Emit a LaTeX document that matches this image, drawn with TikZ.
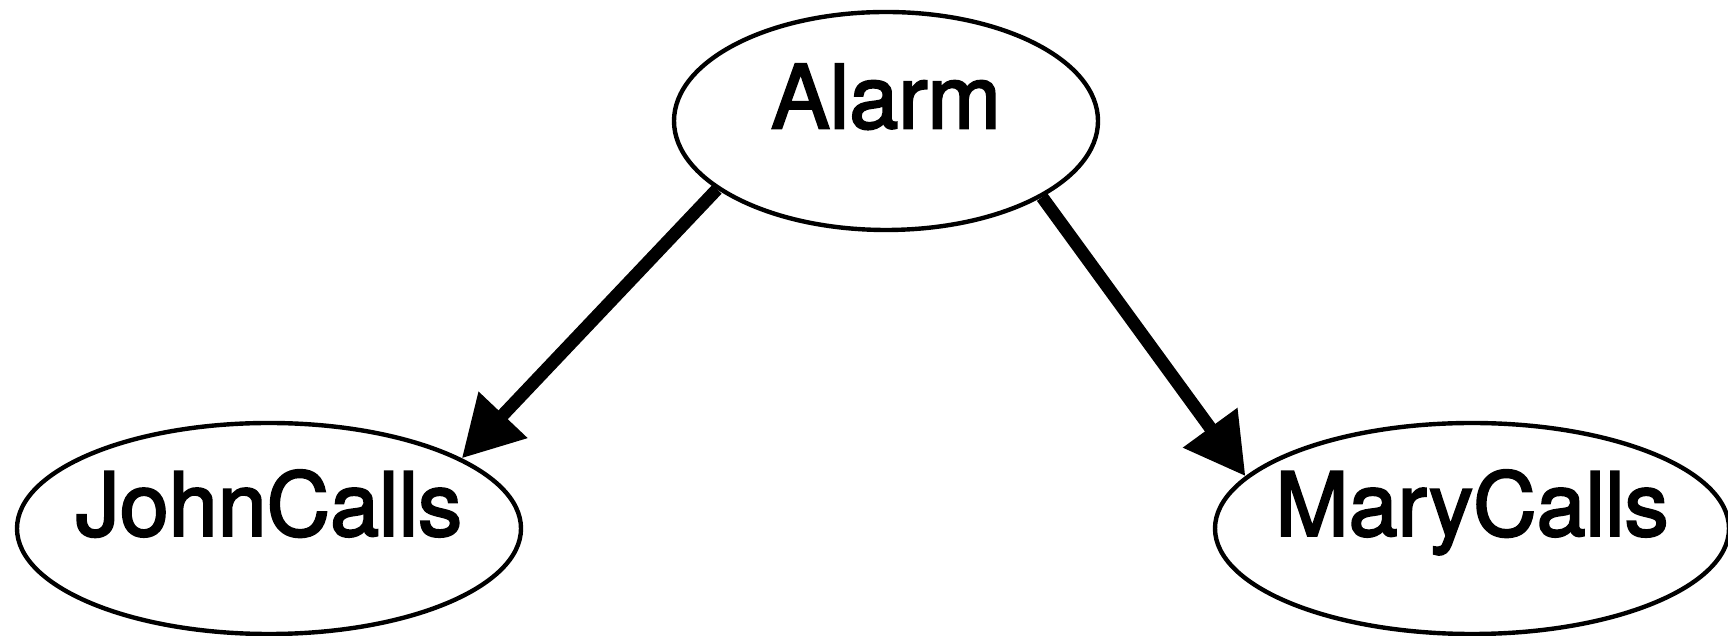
\documentclass[tikz,border=0pt]{standalone}
\usepackage{fontspec}
\setmainfont{TeX Gyre Heros}[FakeBold=2.5]
\usetikzlibrary{arrows.meta, shapes.geometric}
\newcommand{\bnname}[1]{\makebox[0pt]{#1}}

\begin{document}
\begin{tikzpicture}[x=1pt, y=1pt, >={Triangle[length=30pt, width=32pt]},
    bnvar/.style={ellipse, draw, line width=2.2pt, inner sep=0pt,
        font=\fontsize{44pt}{52pt}\selectfont, text height=0.716em, text depth=0pt},
    causal/.style={->, line width=6.4pt}]
    \useasboundingbox (0,0) rectangle (864,318);
    \node[bnvar, minimum width=212pt, minimum height=109pt] (alarm) at (443,257.5) {\bnname{Alarm}};
    \node[bnvar, minimum width=252pt, minimum height=105.5pt] (john) at (134.5,53.75) {\bnname{JohnCalls}};
    \node[bnvar, minimum width=257pt, minimum height=105.5pt] (mary) at (736,53.75) {\bnname{MaryCalls}};
    \draw[causal] (alarm.202) -- (john.20);
    \draw[causal] (alarm.334) -- (mary.167);
\end{tikzpicture}
\end{document}
